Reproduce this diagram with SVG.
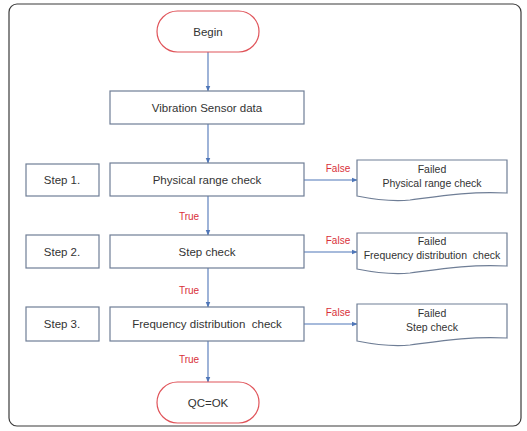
<svg xmlns="http://www.w3.org/2000/svg" width="527" height="431" viewBox="0 0 527 431">
<style>
.frame{fill:#fff;stroke:#3a3a3a;stroke-width:1.2}
.term{fill:#fff;stroke:#e0545a;stroke-width:1.2}
.box{fill:#fff;stroke:#6f7e96;stroke-width:1.2}
.t{font-family:"Liberation Sans",Arial,sans-serif;font-size:11.5px;fill:#333;text-anchor:middle;white-space:pre}
.s{font-size:10.5px}
.lbl{font-family:"Liberation Sans",Arial,sans-serif;font-size:10px;fill:#d9303a;text-anchor:middle}
.c{stroke:#4f76b8;stroke-width:1.1;fill:none;marker-end:url(#ah)}
</style>
<defs>
<marker id="ah" viewBox="0 0 10 10" refX="9" refY="5" markerWidth="6" markerHeight="6" orient="auto" markerUnits="userSpaceOnUse">
<path d="M0,1 L10,5 L0,9 z" fill="#4f76b8"/>
</marker>
</defs>
<rect class="frame" x="9" y="4" width="512" height="422" rx="8"/>
<g id="connectors">
<line class="c" x1="208" y1="52" x2="208" y2="91"/>
<line class="c" x1="208" y1="124" x2="208" y2="163"/>
<line class="c" x1="208" y1="196" x2="208" y2="235"/>
<line class="c" x1="208" y1="268" x2="208" y2="307"/>
<line class="c" x1="208" y1="341" x2="208" y2="382"/>
<line class="c" x1="304" y1="180" x2="357" y2="180"/>
<line class="c" x1="304" y1="252" x2="357" y2="252"/>
<line class="c" x1="304" y1="324" x2="357" y2="324"/>
<text class="lbl" x="338" y="172">False</text>
<text class="lbl" x="338" y="244">False</text>
<text class="lbl" x="338" y="316">False</text>
<text class="lbl" x="189" y="220">True</text>
<text class="lbl" x="189" y="294">True</text>
<text class="lbl" x="189" y="363">True</text>
</g>
<g id="begin">
<rect class="term" x="157" y="11" width="102" height="41" rx="20.5"/>
<text class="t" x="208" y="36">Begin</text>
</g>
<g id="vibration">
<rect class="box" x="110" y="91" width="194" height="33"/>
<text class="t" x="207" y="112">Vibration Sensor data</text>
</g>
<g id="step1">
<rect class="box" x="26" y="164" width="73" height="32"/>
<text class="t" x="62" y="184">Step 1.</text>
</g>
<g id="physical">
<rect class="box" x="110" y="163" width="194" height="33"/>
<text class="t" x="207" y="184">Physical range check</text>
</g>
<g id="failed1">
<path class="box" d="M357,160 H507 V193 C470,191 440,196 410,200 C390,202 372,199 357,196 Z"/>
<text class="t s" x="432" y="173">Failed</text>
<text class="t s" x="432" y="187">Physical range check</text>
</g>
<g id="step2">
<rect class="box" x="26" y="235" width="73" height="33"/>
<text class="t" x="62" y="256">Step 2.</text>
</g>
<g id="stepcheck">
<rect class="box" x="110" y="235" width="194" height="33"/>
<text class="t" x="207" y="256">Step check</text>
</g>
<g id="failed2">
<path class="box" d="M357,233 H507 V266 C470,264 440,269 410,273 C390,275 372,272 357,269 Z"/>
<text class="t s" x="432" y="245">Failed</text>
<text class="t s" x="432" y="259" xml:space="preserve">Frequency distribution  check</text>
</g>
<g id="step3">
<rect class="box" x="26" y="307" width="73" height="34"/>
<text class="t" x="62" y="328">Step 3.</text>
</g>
<g id="freq">
<rect class="box" x="110" y="307" width="194" height="34"/>
<text class="t" x="207" y="328" xml:space="preserve">Frequency distribution  check</text>
</g>
<g id="failed3">
<path class="box" d="M357,304 H507 V338 C470,336 440,341 410,345 C390,347 372,344 357,341 Z"/>
<text class="t s" x="432" y="317">Failed</text>
<text class="t s" x="432" y="331">Step check</text>
</g>
<g id="qcok">
<rect class="term" x="157" y="382" width="102" height="41" rx="20.5"/>
<text class="t" x="208" y="407">QC=OK</text>
</g>
</svg>
